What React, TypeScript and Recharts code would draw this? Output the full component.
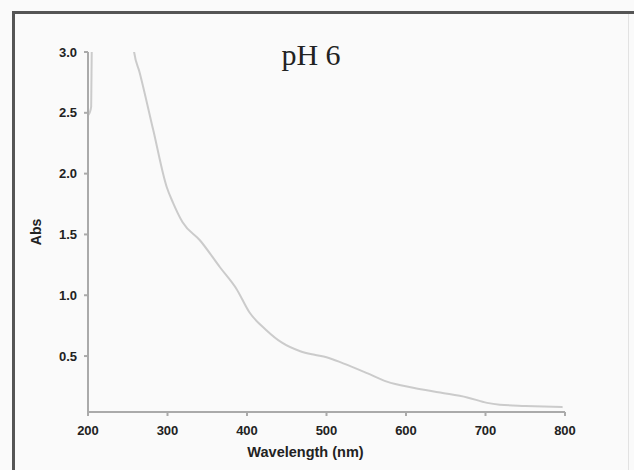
import { LineChart, Line, XAxis, YAxis } from 'recharts';

// wavelength (nm) and absorbance; null = off-scale gap
const wavelengths = [200, 202, 204, 205, 230, 256, 258, 265, 282, 299, 307, 319, 341, 366, 387, 403, 424, 444, 467, 485, 500, 521, 551, 576, 609, 643, 677, 702, 718, 750, 797];
const absorbance = [2.48, 2.5, 2.55, 3.2, null, 3.1, 3.0, 2.83, 2.36, 1.89, 1.76, 1.6, 1.45, 1.23, 1.05, 0.86, 0.715, 0.61, 0.54, 0.51, 0.49, 0.44, 0.36, 0.29, 0.24, 0.2, 0.16, 0.115, 0.1, 0.09, 0.08];

const xTicks = [200, 300, 400, 500, 600, 700, 800];
const yTicks = [0.5, 1.0, 1.5, 2.0, 2.5, 3.0];

const data = wavelengths.map((wl, i) => ({ wl, abs: absorbance[i] }));

const tickStyle = { fill: '#222', fontSize: 13, fontWeight: 700, fontFamily: 'Liberation Sans, Arial, sans-serif' };

export default function App() {
  return (
    <div style={{ position: 'fixed', left: 0, top: 0, width: 634, height: 470, background: '#fafafa', overflow: 'hidden' }}>
      <div style={{ position: 'absolute', left: 12, top: 11, width: 3, height: 470, background: '#555' }} />
      <div style={{ position: 'absolute', left: 12, top: 11, width: 622, height: 3, background: '#555' }} />
      <div style={{ position: 'absolute', left: 628, top: 14, width: 1, height: 456, background: '#e2e2e2' }} />
      <div
        style={{
          position: 'absolute',
          left: 246,
          width: 130,
          top: 38,
          textAlign: 'center',
          fontFamily: 'Liberation Serif, Times New Roman, serif',
          fontSize: 30,
          color: '#222',
        }}
      >
        pH 6
      </div>
      <LineChart width={634} height={470} data={data} margin={{ top: 52, right: 69, bottom: 20, left: 48 }}>
        <XAxis
          dataKey="wl"
          type="number"
          domain={[200, 800]}
          ticks={xTicks}
          stroke="#aaa"
          strokeWidth={2}
          tickSize={4}
          tickMargin={10}
          tick={tickStyle}
          height={38}
          label={{ value: 'Wavelength (nm)', position: 'bottom', offset: -3, dx: -21, style: { ...tickStyle, fontSize: 14.5 } }}
        />
        <YAxis
          type="number"
          domain={[0.04, 3]}
          allowDataOverflow
          ticks={yTicks}
          tickFormatter={(v: number) => v.toFixed(1)}
          stroke="#aaa"
          strokeWidth={2}
          tickSize={4}
          tickMargin={7}
          tick={tickStyle}
          width={40}
          label={{ value: 'Abs', angle: -90, position: 'insideLeft', offset: -12, style: { ...tickStyle, fontSize: 14, textAnchor: 'middle' } }}
        />
        <Line
          type="monotone"
          dataKey="abs"
          stroke="#cbcbcb"
          strokeWidth={2}
          dot={false}
          connectNulls={false}
          isAnimationActive={false}
        />
      </LineChart>
    </div>
  );
}
